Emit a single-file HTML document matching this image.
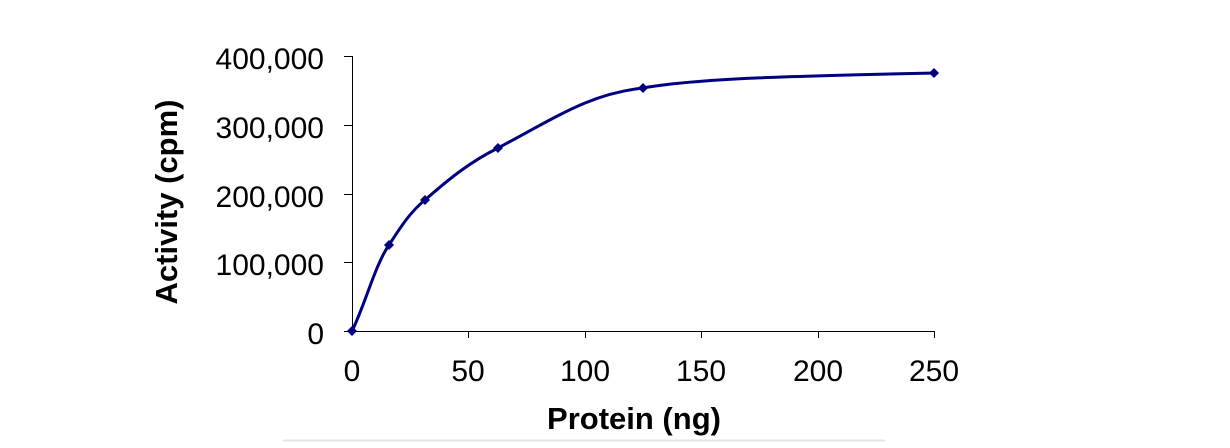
<!DOCTYPE html>
<html><head><style>body{margin:0;background:#fff}</style></head><body>
<svg width="1230" height="443" xmlns="http://www.w3.org/2000/svg" font-family="Liberation Sans, Arial, sans-serif">
<rect width="1230" height="443" fill="#fff"/>
<line x1="283" y1="440.5" x2="885" y2="440.5" stroke="#e4e4e4" stroke-width="2"/>
<g stroke="#000" stroke-width="1">
<line x1="352.5" y1="56" x2="352.5" y2="331"/>
<line x1="352" y1="331.5" x2="935" y2="331.5"/>
<line x1="344" y1="56.5" x2="352" y2="56.5"/>
<line x1="344" y1="125.5" x2="352" y2="125.5"/>
<line x1="344" y1="194.5" x2="352" y2="194.5"/>
<line x1="344" y1="262.5" x2="352" y2="262.5"/>
<line x1="344" y1="331.5" x2="352" y2="331.5"/>
<line x1="468.5" y1="331" x2="468.5" y2="338"/>
<line x1="585.5" y1="331" x2="585.5" y2="338"/>
<line x1="701.5" y1="331" x2="701.5" y2="338"/>
<line x1="818.5" y1="331" x2="818.5" y2="338"/>
<line x1="934.5" y1="331" x2="934.5" y2="338"/>
</g>
<g font-size="30" text-anchor="end" fill="#000">
<text x="324" y="69">400,000</text>
<text x="324" y="138">300,000</text>
<text x="324" y="207">200,000</text>
<text x="324" y="275">100,000</text>
<text x="324" y="344">0</text>
</g>
<g font-size="30" text-anchor="middle" fill="#000">
<text x="352" y="381">0</text>
<text x="468" y="381">50</text>
<text x="585" y="381">100</text>
<text x="701" y="381">150</text>
<text x="818" y="381">200</text>
<text x="934" y="381">250</text>
</g>
<text x="634" y="429" font-size="31" font-weight="bold" text-anchor="middle">Protein (ng)</text>
<text transform="translate(177,202) rotate(-90)" font-size="31" font-weight="bold" text-anchor="middle">Activity (cpm)</text>
<path d="M352,331 C365,305 375,265 389,245 C400,228 410,212 425,200 C450,178 470,162 498,148 C560,115 590,94 643,88 C700,78 800,76 934,73" fill="none" stroke="#000080" stroke-width="3"/>
<g fill="#000080">
<polygon points="352,326 357,331 352,336 347,331"/>
<polygon points="389,240 394,245 389,250 384,245"/>
<polygon points="425,195 430,200 425,205 420,200"/>
<polygon points="498,143 503,148 498,153 493,148"/>
<polygon points="643,83 648,88 643,93 638,88"/>
<polygon points="934,68 939,73 934,78 929,73"/>
</g>
</svg>
</body></html>
